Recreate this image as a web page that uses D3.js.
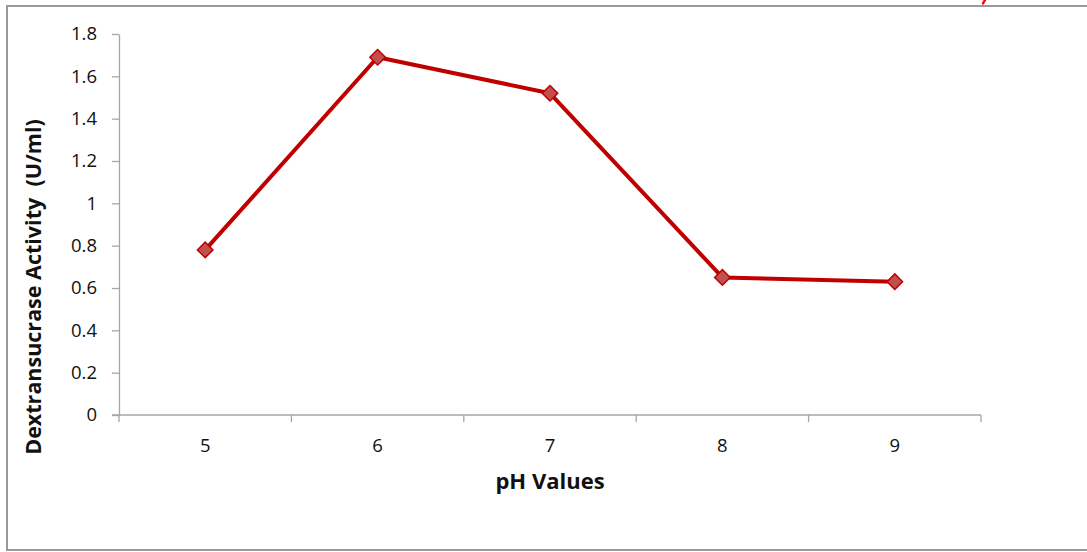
<!DOCTYPE html>
<html>
<head>
<meta charset="utf-8">
<script src="https://cdn.jsdelivr.net/npm/d3@7"></script>
<style>
  body { margin: 0; background: #fff; }
  text { font-family: "Open Sans", sans-serif; fill: #111; }
</style>
</head>
<body>
<div id="chart"></div>
<script>
// pH values on x axis and measured activity
const phValues = ["5", "6", "7", "8", "9"];
const activity = [0.78, 1.69, 1.52, 0.65, 0.63];
const yTicks = [0, 0.2, 0.4, 0.6, 0.8, 1, 1.2, 1.4, 1.6, 1.8];

const width = 1087, height = 552;

const svg = d3.select("#chart")
    .append("svg")
    .attr("width", width)
    .attr("height", height);

// outer frame (right side runs off the picture)
svg.append("path")
    .attr("d", "M1100,6 H7 V550 H1100")
    .attr("fill", "none")
    .attr("stroke", "#999")
    .attr("stroke-width", 2);

// tail of some red lettering cut off above the frame
svg.append("path")
    .attr("d", "M985,0 L983,3.5")
    .attr("stroke", "#ff0000")
    .attr("stroke-width", 2.5)
    .attr("stroke-linecap", "round");

const plotLeft = 119, plotRight = 981, plotTop = 34, plotBottom = 415;

const x = d3.scaleBand()
    .domain(phValues)
    .range([plotLeft, plotRight]);

const y = d3.scaleLinear()
    .domain([0, 1.8])
    .range([plotBottom, plotTop]);

// y axis
const yAxis = svg.append("g")
    .attr("transform", `translate(${plotLeft},0)`)
    .call(d3.axisLeft(y).tickValues(yTicks).tickSize(7).tickSizeOuter(0)
        .tickFormat(d => String(+d.toFixed(1))));
yAxis.select(".domain").attr("stroke", "#a6a6a6").attr("stroke-width", 1.3);
yAxis.selectAll(".tick line").attr("stroke", "#a6a6a6").attr("stroke-width", 1.3);
yAxis.selectAll(".tick text")
    .attr("x", -22)
    .attr("font-size", 18.5)
    .style("font-family", "Open Sans, sans-serif")
    .attr("fill", "#111");

// x axis with ticks between categories
const xAxis = svg.append("g")
    .attr("transform", `translate(0,${plotBottom})`);
xAxis.append("line")
    .attr("x1", plotLeft - 7).attr("x2", plotRight)
    .attr("stroke", "#a6a6a6").attr("stroke-width", 1.3);
const boundaries = phValues.map(d => x(d)).concat([plotRight]);
xAxis.selectAll(".xt")
    .data(boundaries)
    .enter()
    .append("line")
    .attr("x1", d => d).attr("x2", d => d)
    .attr("y1", 0).attr("y2", 7)
    .attr("stroke", "#a6a6a6").attr("stroke-width", 1.3);
xAxis.selectAll(".xl")
    .data(phValues)
    .enter()
    .append("text")
    .attr("x", d => x(d) + x.bandwidth() / 2)
    .attr("y", 37)
    .attr("text-anchor", "middle")
    .attr("font-size", 18.5)
    .text(d => d);

// axis titles
svg.append("text")
    .attr("x", 550)
    .attr("y", 489)
    .attr("text-anchor", "middle")
    .attr("font-size", 22)
    .attr("font-weight", "bold")
    .text("pH Values");

svg.append("text")
    .attr("transform", "translate(41,287) rotate(-90)")
    .attr("text-anchor", "middle")
    .attr("font-size", 21.5)
    .attr("font-weight", "bold")
    .attr("xml:space", "preserve")
    .text("Dextransucrase Activity  (U/ml)");

// the line
const line = d3.line()
    .x((d, i) => x(phValues[i]) + x.bandwidth() / 2)
    .y(d => y(d));

svg.append("path")
    .datum(activity)
    .attr("d", line)
    .attr("fill", "none")
    .attr("stroke", "#c00000")
    .attr("stroke-width", 4)
    .attr("stroke-linejoin", "round");

// diamond markers
svg.selectAll(".marker")
    .data(activity)
    .enter()
    .append("path")
    .attr("class", "marker")
    .attr("transform", (d, i) => `translate(${x(phValues[i]) + x.bandwidth() / 2},${y(d)}) rotate(45)`)
    .attr("d", "M-5.5,-5.5H5.5V5.5H-5.5Z")
    .attr("fill", "#c0504d")
    .attr("stroke", "#c00000")
    .attr("stroke-width", 1.5);
</script>
</body>
</html>
